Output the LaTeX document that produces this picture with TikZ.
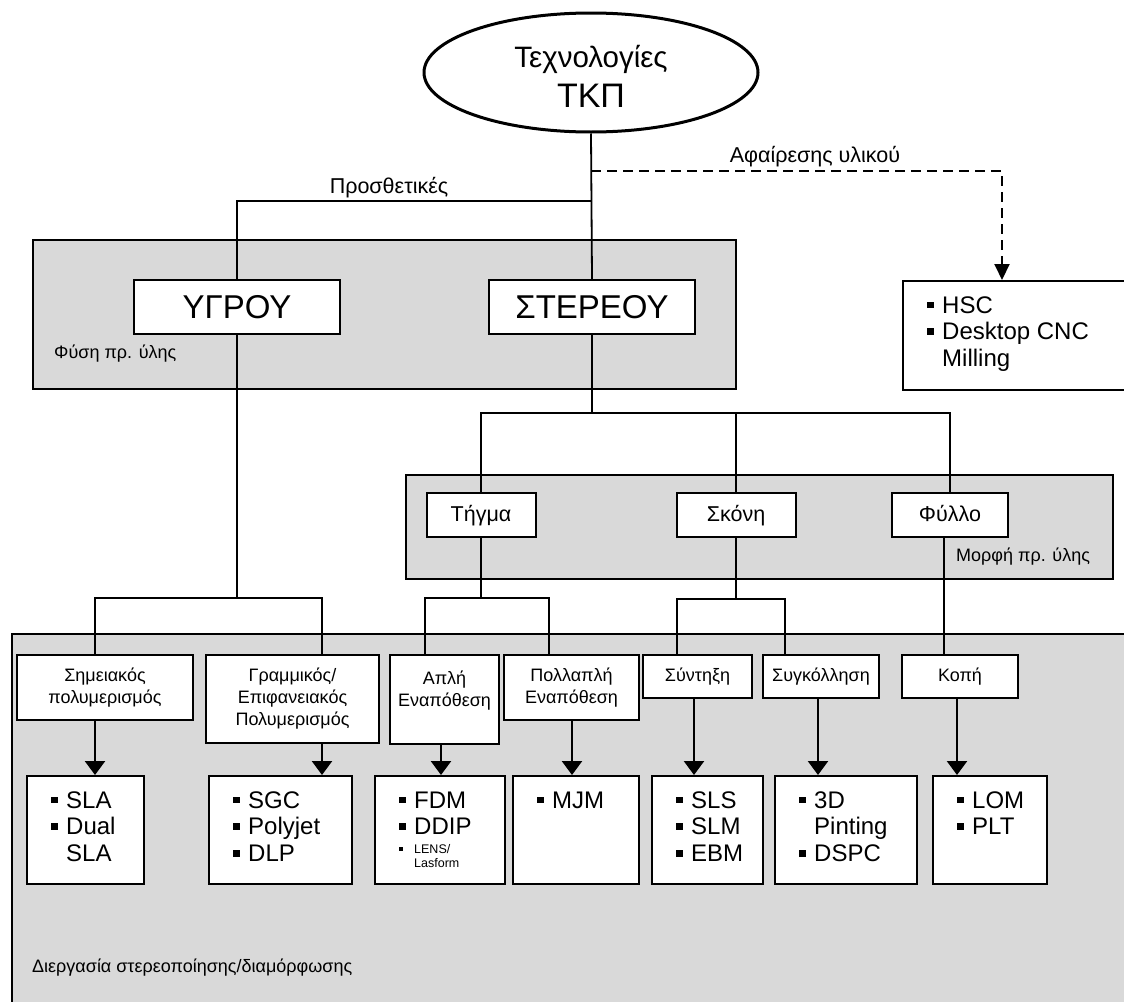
\documentclass[tikz,border=0pt]{standalone}
\usepackage{fontspec}
\setmainfont{Liberation Sans}
\usetikzlibrary{shapes.geometric,arrows.meta}

\definecolor{panelgray}{RGB}{217,217,217}
\newcommand\bul{\rule[4.7pt]{6.7pt}{6.7pt}}
\newcommand\smallbul{\rule[3pt]{3.4pt}{3.4pt}}
\newcommand\items[1]{\begin{tabular}[t]{@{}l@{\hspace{8.3pt}}l@{}}#1\end{tabular}}

\tikzset{
  panel/.style={draw, fill=panelgray, line width=1.6pt},
  conn/.style={line width=1.8pt},
  arr/.style={line width=2.4pt, -{Triangle[width=20pt,length=14pt]}},
  dasharr/.style={line width=2pt, dash pattern=on 10pt off 6pt, -{Triangle[width=15pt,length=16pt]}},
  big/.style={draw, fill=white, line width=2pt, inner sep=0pt, minimum height=54pt, font=\fontsize{33}{36}\selectfont},
  mid/.style={draw, fill=white, line width=2pt, inner sep=0pt, minimum height=44pt, text height=16pt, text depth=4pt, font=\fontsize{21.5}{24}\selectfont},
  proc/.style={draw, fill=white, line width=2pt, inner sep=0pt, align=center, anchor=north, font=\fontsize{18}{22}\selectfont},
  res/.style={draw, fill=white, line width=2pt, inner sep=0pt, minimum height=108pt, anchor=north},
  lst/.style={anchor=base west, inner sep=0pt, font=\fontsize{24}{26.7}\selectfont},
  lbl/.style={inner sep=0pt, font=\fontsize{18}{22}\selectfont},
  branch/.style={inner sep=0pt, font=\fontsize{21.5}{24}\selectfont}
}

\begin{document}
\begin{tikzpicture}[x=1pt, y=-1pt]
  \clip (0,0) rectangle (1124,1001);
  \fill[white] (0,0) rectangle (1124,1001);

  % grey groups
  \draw[panel] (33,240) rectangle (736,389);
  \draw[panel] (406,475) rectangle (1113,579);
  \draw[panel] (12,634) rectangle (1130,1010);

  % top levels
  \node[draw, ellipse, line width=3pt, fill=white, minimum width=334pt, minimum height=119pt, inner sep=0pt, align=center, font=\fontsize{29.5}{40}\selectfont] (tkp) at (591,72.5) {\rule{0pt}{30pt}Τεχνολογίες\\{\fontsize{34}{40}\selectfont ΤΚΠ}};
  \node[big, minimum width=206pt] (ygrou) at (237,307) {ΥΓΡΟΥ};
  \node[big, minimum width=206pt] (stereou) at (592,307) {ΣΤΕΡΕΟΥ};
  \node[res, anchor=north west, minimum width=260pt, minimum height=109pt] (hsc) at (902,280) {};
  \node[lst] (hsc-l) at ([shift={(25,33)}]hsc.north west) {\items{\bul & HSC\\ \bul & Desktop CNC\\ & Milling}};

  \node[branch] (prosth) at (389,188) {Προσθετικές};
  \node[branch] (afair) at (815,157) {Αφαίρεσης υλικού};
  \node[lbl, anchor=west] (fysi) at (54,354) {Φύση πρ. ύλης};

  % raw material form
  \node[mid, minimum width=109pt] (tigma) at (481,515) {Τήγμα};
  \node[mid, minimum width=119pt] (skoni) at (736,515) {Σκόνη};
  \node[mid, minimum width=116pt] (fyllo) at (950,515) {Φύλλο};
  \node[lbl, anchor=west] (morfi) at (956,557) {Μορφή πρ. ύλης};

  % processes
  \node[proc, minimum width=176pt, minimum height=65pt] (simeiakos) at (105,654) {Σημειακός\\πολυμερισμός};
  \node[proc, minimum width=173pt, minimum height=88pt] (grammikos) at (292.5,654) {Γραμμικός/\\Επιφανειακός\\Πολυμερισμός};
  \node[proc, minimum width=109pt, minimum height=89pt] (apli) at (444.5,654) {Απλή\\Εναπόθεση\\\mbox{}};
  \node[proc, minimum width=135pt, minimum height=65pt] (pollapli) at (571.5,654) {Πολλαπλή\\Εναπόθεση};
  \node[proc, minimum width=109pt, minimum height=43pt] (syntixi) at (697.5,654) {Σύντηξη};
  \node[proc, minimum width=116pt, minimum height=43pt] (sygkollisi) at (821,654) {Συγκόλληση};
  \node[proc, minimum width=116pt, minimum height=43pt] (kopi) at (960,654) {Κοπή};

  % technologies
  \node[res, minimum width=117pt] (sla) at (85.5,775) {};
  \node[res, minimum width=143pt] (sgc) at (280.5,775) {};
  \node[res, minimum width=130pt] (fdm) at (440,775) {};
  \node[res, minimum width=126pt] (mjm) at (576,775) {};
  \node[res, minimum width=111pt] (sls) at (707.5,775) {};
  \node[res, minimum width=142pt] (dsp) at (846,775) {};
  \node[res, minimum width=114pt] (lom) at (990,775) {};

  \node[lst] (sla-l) at ([shift={(25,33)}]sla.north west) {\items{\bul & SLA\\ \bul & Dual\\ & SLA}};
  \node[lst] (sgc-l) at ([shift={(25,33)}]sgc.north west) {\items{\bul & SGC\\ \bul & Polyjet\\ \bul & DLP}};
  \node[lst] (fdm-l) at ([shift={(25,33)}]fdm.north west) {\items{\bul & FDM\\ \bul & DDIP\\[-7.7pt] \smallbul & \fontsize{12.5}{13}\selectfont LENS/\\[-12.7pt] & \fontsize{12.5}{13}\selectfont Lasform}};
  \node[lst] (mjm-l) at ([shift={(25,33)}]mjm.north west) {\items{\bul & MJM}};
  \node[lst] (sls-l) at ([shift={(25,33)}]sls.north west) {\items{\bul & SLS\\ \bul & SLM\\ \bul & EBM}};
  \node[lst] (dsp-l) at ([shift={(25,33)}]dsp.north west) {\items{\bul & 3D\\ & Pinting\\ \bul & DSPC}};
  \node[lst] (lom-l) at ([shift={(25,33)}]lom.north west) {\items{\bul & LOM\\ \bul & PLT}};

  \node[lbl, anchor=west] (diergasia) at (32,968) {Διεργασία στερεοποίησης/διαμόρφωσης};

  % tree lines
  \draw[conn] (tkp.south) -- (stereou.north);
  \draw[conn] (tkp.south |- 0,201) -| (ygrou.north);
  \draw[dasharr] (tkp.south |- 0,171) -| (1002,0 |- hsc.north);

  \draw[conn] (ygrou.south) -- (ygrou.south |- 0,598);
  \draw[conn] (95,0 |- simeiakos.north) |- (322,598) -- (322,0 |- grammikos.north);

  \draw[conn] (stereou.south) -- (stereou.south |- 0,413);
  \draw[conn] (tigma.north) |- (fyllo.north |- 0,413) -- (fyllo.north);
  \draw[conn] (skoni.north) -- (skoni.north |- 0,413);

  \draw[conn] (tigma.south) -- (tigma.south |- 0,598);
  \draw[conn] (425,0 |- apli.north) |- (549,598) -- (549,0 |- pollapli.north);
  \draw[conn] (skoni.south) -- (skoni.south |- 0,599);
  \draw[conn] (677,0 |- syntixi.north) |- (785,599) -- (785,0 |- sygkollisi.north);
  \draw[conn] (944,0 |- fyllo.south) -- (944,0 |- kopi.north);

  % process -> technology
  \foreach \p/\r/\x in {simeiakos/sla/95, grammikos/sgc/322, apli/fdm/441, pollapli/mjm/572,
                        syntixi/sls/694, sygkollisi/dsp/818, kopi/lom/957}
    \draw[arr] (\x,0 |- \p.south) -- (\x,0 |- \r.north);
\end{tikzpicture}
\end{document}
